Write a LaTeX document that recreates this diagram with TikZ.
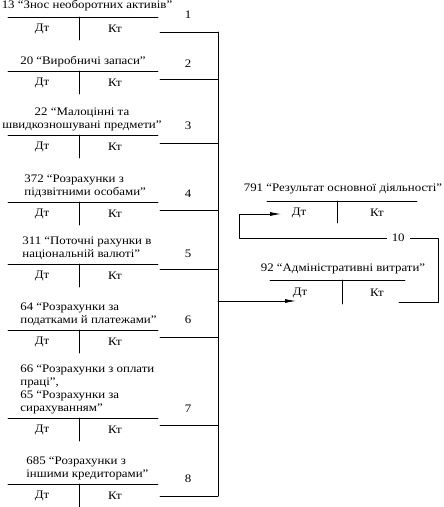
\documentclass[tikz,border=0pt]{standalone}
\usepackage{fontspec}
\setmainfont{Liberation Serif}[FakeStretch=1.12]
\usetikzlibrary{arrows.meta}

\begin{document}
\begin{tikzpicture}
    [line cap=round,line join=round,x=1pt,y=-1pt,line width=0.8pt,
     every node/.style={font=\fontsize{11.5}{13}\selectfont,inner sep=1pt}]
\useasboundingbox (0,0) rectangle (444,507);
%the accounts on the left, with their lines to the bus
\foreach \i/\L/\C/\ly/\tx/\ty/\an/\al/\title in {
  1/17/32/15/87/5/south/center/{13 “Знос необоротних активів”},
  2/71/79/64/83/3/south/center/{20 “Виробничі запаси”},
  3/135/143/126/82/3/south/center/{22 “Малоцінні та\\швидкозношувані предмети”},
  4/202/210/194/23/3/south west/left/{372 “Розрахунки з\\підзвітними особами”},
  5/264/269/254/21/3/south west/left/{311 “Поточні рахунки в\\національній валюті”},
  6/330/337/320/19/3/south west/left/{64 “Розрахунки за\\податками й платежами”},
  7/418/425/409/19/3/south west/left/{66 “Розрахунки з оплати\\праці”,\\65 “Розрахунки за\\сирахуванням”},
  8/484/496/479/25/3/south west/left/{685 “Розрахунки з\\іншими кредиторами”}}{
  \node [anchor=\an,align=\al] (title\i) at (\tx,\L-\ty) {\title};
  \draw (8,\L) -- (158,\L);
  \draw (79,\L) -- (79,\L+23);
  \node (dt\i) at (42,\L+12) {Дт};
  \node (kt\i) at (115,\L+12) {Кт};
  \coordinate (out\i) at (160,\C);
  \coordinate (bus\i) at (218,\C);
  \draw (out\i) -- (bus\i);
  \node (n\i) at (188,\ly) {\i};
}
\draw (bus1) -- (bus8);
%the two accounts on the right
\node (title791) at (343,189) {791 “Результат основної діяльності”};
\draw (267,201) -- (417,201);
\draw (337,201) -- (337,223);
\node (dt791) at (299,213) {Дт};
\node (kt791) at (377,213) {Кт};
\node (title92) at (343,269) {92 “Адміністративні витрати”};
\draw (270,280) -- (405,280);
\draw (342,280) -- (342,304);
\node (dt92) at (300,293) {Дт};
\node (kt92) at (377,293) {Кт};
%arrows
\coordinate (bus92) at (218,301);
\coordinate (in92) at (296,301);
\draw[-{Latex[length=11pt,width=4pt]}] (bus92) -- (in92);
\coordinate (out92) at (399,302);
\coordinate (loopR) at (438,238);
\coordinate (loopL) at (239,238);
\coordinate (in791) at (281,214);
\draw[-{Latex[length=11pt,width=4pt]}] (out92) -| (loopR)
   -- node [fill=white,pos=0.2,inner xsep=5pt] {10} (loopL) |- (in791);
\end{tikzpicture}
\end{document}
